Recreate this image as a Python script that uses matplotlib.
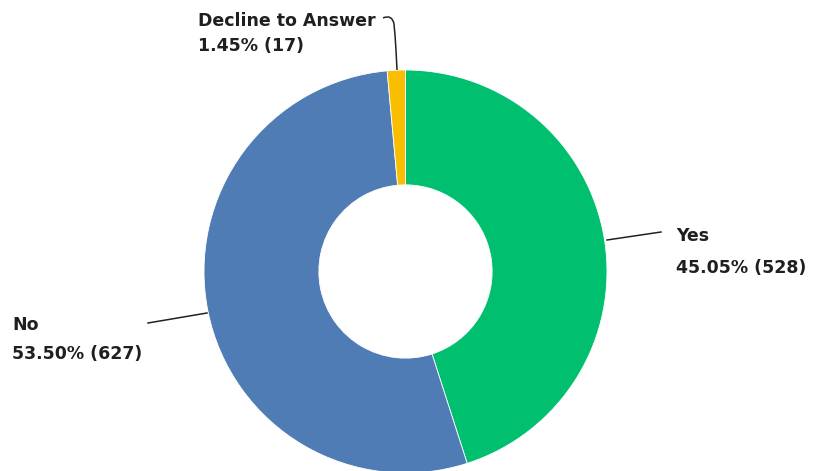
import matplotlib.pyplot as plt
from matplotlib.path import Path
from matplotlib.patches import PathPatch

# Survey answers
labels = ["Yes", "No", "Decline to Answer"]
counts = [528, 627, 17]
percents = [45.05, 53.50, 1.45]
colors = ["#00BF6F", "#507CB6", "#F9BE00"]

W, H = 815, 471
fig = plt.figure(figsize=(W / 100, H / 100), dpi=100)
ax = fig.add_axes([0, 0, 1, 1])

cx, cy, r = 405.5, H - 271.5, 201.5
ax.pie(counts, colors=colors, startangle=90, counterclock=False,
       center=(cx, cy), radius=r, frame=True,
       wedgeprops=dict(width=r * 0.57, edgecolor="white", linewidth=0.6))
ax.set_xlim(0, W)
ax.set_ylim(0, H)
ax.set_aspect("equal")
ax.axis("off")

font = dict(family=["DejaVu Sans"], fontsize=12.5,
            fontweight="bold", color="#1f1f1f", va="center", ha="left")

# label text, positions in pixels from the top-left
texts = [(676, 236, 268), (12, 325, 354), (198, 21, 46)]
for lab, n, p, (x, y1, y2) in zip(labels, counts, percents, texts):
    ax.text(x, H - y1, lab, **font)
    ax.text(x, H - y2, f"{p:.2f}% ({n})", **font)

# leader lines
ax.plot([607, 661], [H - 240, H - 232], color="#222222", lw=1.1)
ax.plot([148, 207], [H - 323, H - 313], color="#222222", lw=1.1)
verts = [(383, H - 18), (392, H - 14), (394, H - 24), (395, H - 35),
         (396, H - 50), (397, H - 70)]
codes = [Path.MOVETO, Path.CURVE3, Path.CURVE3, Path.LINETO,
         Path.LINETO, Path.LINETO]
ax.add_patch(PathPatch(Path(verts, codes), fill=False, color="#222222", lw=1.1))

fig.savefig("out.png", dpi=100)
